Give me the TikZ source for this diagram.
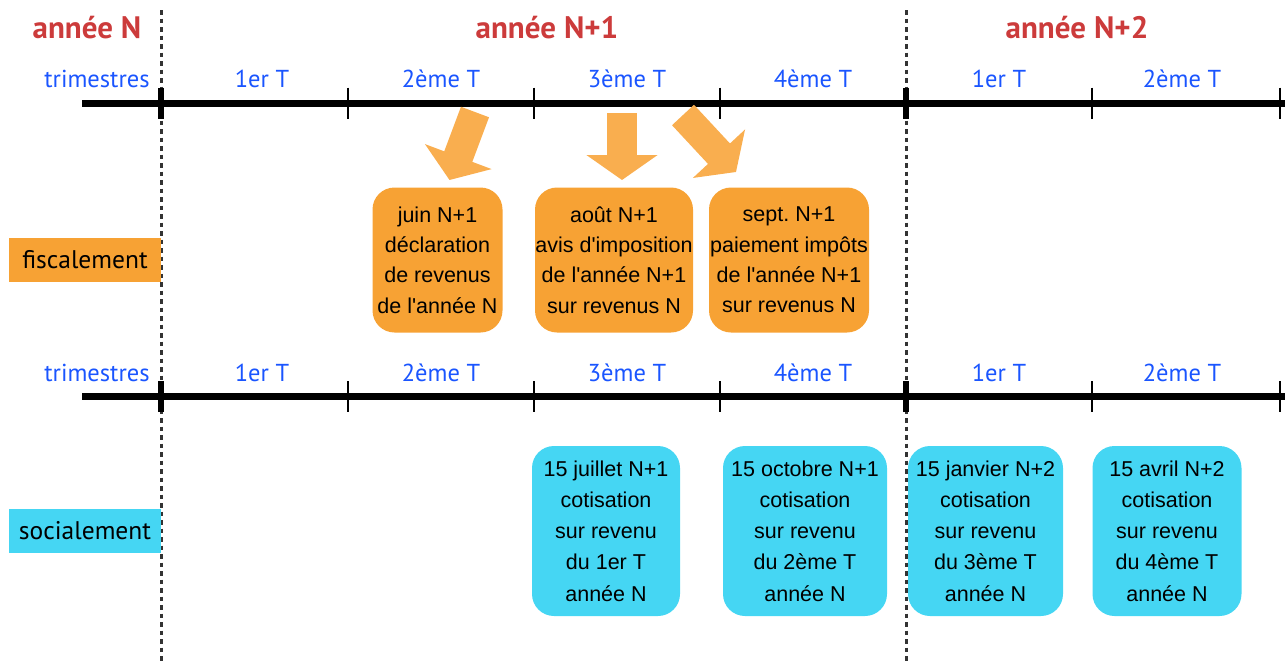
\documentclass[tikz,border=0pt]{standalone}
\usepackage{fontspec}
\setmainfont{Liberation Sans}
\newfontfamily\labfont{PT Sans}
\usetikzlibrary{arrows.meta}
\newcommand\apos{\XeTeXglyph\XeTeXcharglyph"27\relax}
\definecolor{yearred}{HTML}{CC3B3B}
\definecolor{qblue}{HTML}{1A55FF}
\definecolor{boxorange}{HTML}{F7A234}
\definecolor{arrorange}{HTML}{F9AE4F}
\definecolor{boxcyan}{HTML}{45D6F3}
\definecolor{dotgray}{HTML}{333333}
\tikzset{
  yearlab/.style={anchor=base, text=yearred, font=\labfont\bfseries\fontsize{31}{34}\selectfont, inner sep=0pt},
  qlab/.style={anchor=base, text=qblue, font=\labfont\fontsize{24.5}{27}\selectfont, inner sep=0pt},
  axisline/.style={line width=7pt, black},
  thintick/.style={line width=2pt, black},
  thicktick/.style={line width=6pt, black},
  yearsep/.style={line width=3pt, dotgray, dash pattern=on 4.5pt off 4pt},
  sidebox/.style={minimum width=152pt, minimum height=44pt, inner sep=0pt, text=black, font=\labfont\fontsize{25.5}{28}\selectfont},
  evbox/.style={rounded corners=22pt, inner sep=0pt, align=center, text=black, font=\frenchspacing\fontsize{21.5}{30.3}\selectfont},
  fiscbox/.style={evbox, fill=boxorange, minimum height=145pt},
  socbox/.style={evbox, fill=boxcyan, minimum height=170pt, font=\frenchspacing\fontsize{21.5}{31.3}\selectfont},
  bigarr/.style={line width=30pt, arrorange, -{Triangle[length=25pt,width=70pt]}}
}
\begin{document}
\begin{tikzpicture}[x=1pt,y=-1pt]
\useasboundingbox (0,0) rectangle (1285,662);
% year separators
\draw[yearsep] (161,10) coordinate (s1top) -- (161,662) coordinate (s1bot);
\draw[yearsep] (906,10) coordinate (s2top) -- (906,662) coordinate (s2bot);
% year labels
\node[yearlab] (yN) at (87,38) {année N};
\node[yearlab] (yN1) at (547,38) {année N+1};
\node[yearlab] (yN2) at (1077,38) {année N+2};
% axes
\foreach \ay/\nm in {103/top,396.5/bot}{
  \draw[axisline] (82,\ay) coordinate (\nm L) -- (1285,\ay) coordinate (\nm R);
  \foreach \tx in {348,534,720,1092,1280}{
    \draw[thintick] (\tx,\ay-15.5) -- (\tx,\ay+15.5);
  }
  \foreach \tx in {161,906}{
    \draw[thicktick] (\tx,\ay-15.5) -- (\tx,\ay+15.5);
  }
}
% quarter labels
\foreach \by/\nm in {87/t,381/b}{
  \node[qlab] (\nm tri) at (97,\by) {trimestres};
  \node[qlab] (\nm q1) at (262,\by) {1er T};
  \node[qlab] (\nm q2) at (441,\by) {2ème T};
  \node[qlab] (\nm q3) at (627,\by) {3ème T};
  \node[qlab] (\nm q4) at (813,\by) {4ème T};
  \node[qlab] (\nm q5) at (999,\by) {1er T};
  \node[qlab] (\nm q6) at (1182,\by) {2ème T};
}
% side labels
\node[sidebox, fill=boxorange] (fisc) at (85,260) {fiscalement};
\node[sidebox, fill=boxcyan] (soc) at (85,531) {socialement};
% fiscal boxes
\node[fiscbox, minimum width=130pt] (f1) at (437.5,260) {juin N+1\\déclaration\\de revenus\\de l\apos année N};
\node[fiscbox, minimum width=158pt] (f2) at (614,260) {août N+1\\avis d\apos imposition\\de l\apos année N+1\\sur revenus N};
\node[fiscbox, minimum width=160pt] (f3) at (789,260) {sept. N+1\\paiement impôts\\de l\apos année N+1\\sur revenus N};
% social boxes
\node[socbox, minimum width=148pt] (c1) at (606,531) {15 juillet N+1\\cotisation\\sur revenu\\du 1er T\\année N};
\node[socbox, minimum width=164pt] (c2) at (805,531) {15 octobre N+1\\cotisation\\sur revenu\\du 2ème T\\année N};
\node[socbox, minimum width=155pt] (c3) at (985.5,531) {15 janvier N+2\\cotisation\\sur revenu\\du 3ème T\\année N};
\node[socbox, minimum width=149pt] (c4) at (1167,531) {15 avril N+2\\cotisation\\sur revenu\\du 4ème T\\année N};
% arrows
\coordinate (a1s) at (475,112);
\coordinate (a1e) at (449.5,180);
\coordinate (a2s) at (622,113);
\coordinate (a2e) at (622,180);
\coordinate (a3s) at (683,115);
\coordinate (a3e) at (736,172);
\draw[bigarr] (a1s) -- (a1e);
\draw[bigarr] (a2s) -- (a2e);
\draw[bigarr] (a3s) -- (a3e);
\end{tikzpicture}
\end{document}
